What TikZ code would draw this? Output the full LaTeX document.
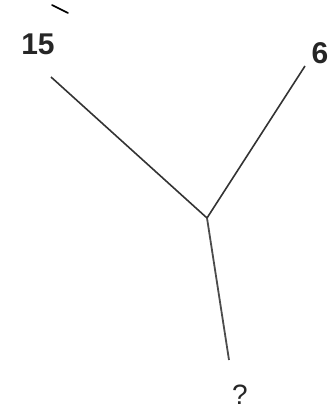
\documentclass[tikz,border=0pt]{standalone}
\usepackage{fontspec}
\setmainfont{Liberation Sans}
\begin{document}
\begin{tikzpicture}[x=1pt,y=-1pt,
  lbl/.style={font=\bfseries\fontsize{30}{32}\selectfont,inner sep=0pt,text=black!85},
  edge/.style={line width=1.6pt,draw=black!80}]
\useasboundingbox (0,0) rectangle (331,414);
\node[lbl] (a) at (38,44) {15};
\node[lbl] (b) at (320,53) {6};
\node[lbl,font=\fontsize{28}{30}\selectfont] (q) at (240,395) {?};
\coordinate (j) at (207,218);
\coordinate (ae) at (51,77);
\coordinate (be) at (305,66);
\coordinate (qe) at (229,360);
\coordinate (t1) at (52,5);
\coordinate (t2) at (68,13);
\draw[edge] (ae) -- (j);
\draw[edge] (be) -- (j);
\draw[edge,line width=1.8pt,draw=black!70] (j) -- (qe);
\draw[line width=1.6pt,line cap=round] (t1) -- (t2);
\end{tikzpicture}
\end{document}
